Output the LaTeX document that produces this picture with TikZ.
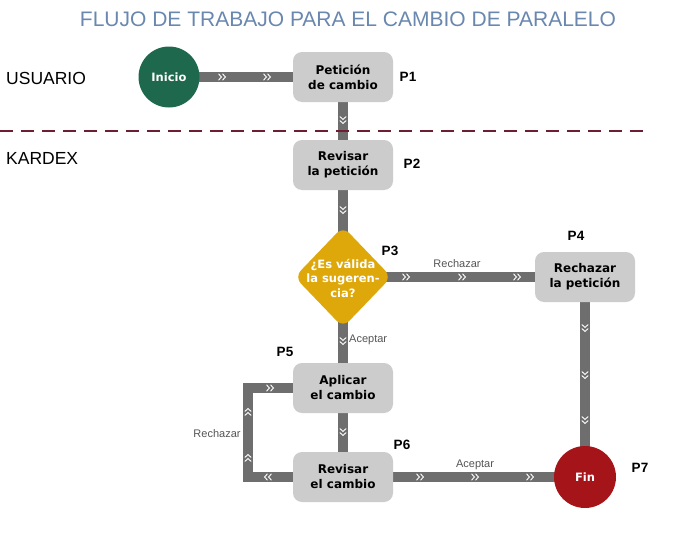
\documentclass[tikz,border=0pt]{standalone}
\usepackage{fontspec}
\setmainfont{Liberation Sans}
\newfontfamily\dvfont{DejaVu Sans}
\usetikzlibrary{shapes.geometric,decorations.markings}
\definecolor{conncol}{RGB}{110,110,110}
\definecolor{boxcol}{RGB}{204,204,204}
\definecolor{inigreen}{RGB}{30,105,78}
\definecolor{finred}{RGB}{165,20,25}
\definecolor{diayellow}{RGB}{222,168,10}
\definecolor{titleblue}{RGB}{105,135,175}
\definecolor{lanered}{RGB}{110,30,50}
\definecolor{lblgray}{RGB}{85,85,85}
\pgfdeclarelayer{bg}
\pgfdeclarelayer{paper}
\pgfsetlayers{paper,bg,main}
\tikzset{
  stepbox/.style={fill=boxcol, rounded corners=9pt, minimum width=100pt, minimum height=50pt,
    inner sep=0pt, align=center, font=\dvfont\bfseries\fontsize{12}{15}\selectfont},
  endcircle/.style={circle, minimum size=#1, inner sep=0pt, text=white,
    font=\dvfont\bfseries\fontsize{11.5}{14}\selectfont},
  decisionbox/.style={diamond, fill=diayellow, rounded corners=9pt, minimum width=97pt,
    minimum height=101pt, inner sep=0pt},
  diatext/.style={text=white, align=center, font=\dvfont\bfseries\fontsize{11.5}{14.5}\selectfont},
  plabel/.style={font=\bfseries\fontsize{13.5}{16}\selectfont},
  lbl/.style={text=lblgray, font=\fontsize{11}{13}\selectfont, inner sep=0pt},
  lanelabel/.style={anchor=west, font=\fontsize{17.5}{20}\selectfont, inner sep=0pt},
  conn/.style={draw=conncol, line width=9.5pt, line join=miter},
  chev/.style={postaction={decorate, decoration={markings, mark=at position #1 with {
    \draw[white, line width=0.9pt, line join=miter] (-3.5pt,-3.2pt) -- (-0.5pt,0pt) -- (-3.5pt,3.2pt)
      (0.5pt,-3.2pt) -- (3.5pt,0pt) -- (0.5pt,3.2pt);}}}},
}
\begin{document}
\begin{tikzpicture}[x=1pt,y=-1pt]
\useasboundingbox (0,0) rectangle (686,538);
\begin{pgfonlayer}{paper}
\fill[white] (0,0) rectangle (686,538);
\end{pgfonlayer}

% title and lanes
\node[text=titleblue, font=\fontsize{21}{24}\selectfont] (tit) at (348,19) {FLUJO DE TRABAJO PARA EL CAMBIO DE PARALELO};
\node[lanelabel] (usr) at (6,78) {USUARIO};
\node[lanelabel] (kdx) at (6,158) {KARDEX};

% nodes
\node[endcircle=61pt, fill=inigreen] (ini) at (169,77) {Inicio};
\node[stepbox] (p1) at (343,77) {Petición\\de cambio};
\node[stepbox] (p2) at (343,165) {Revisar\\la petición};
\node[decisionbox] (dia) at (343,277) {};
\node[diatext] (diat) at (343,278) {¿Es válida\\la sugeren-\\cia?};
\node[stepbox] (p4) at (585,277) {Rechazar\\la petición};
\node[stepbox] (p5) at (343,388) {Aplicar\\el cambio};
\node[stepbox] (p6) at (343,477) {Revisar\\el cambio};
\node[endcircle=62pt, fill=finred] (fin) at (585,477) {Fin};

\coordinate (lb) at (248,477);
\coordinate (lt) at (248,388);

% connectors
\begin{pgfonlayer}{bg}
\draw[conn, chev=53pt, chev=98pt] (ini.center) -- (p1.center);
\draw[conn, chev=43pt] (p1.center) -- (p2.center);
\draw[conn, chev=45pt] (p2.center) -- (dia.center);
\draw[conn, chev=63pt, chev=119pt, chev=174pt] (dia.center) -- (p4.center);
\draw[conn, chev=51pt, chev=98pt, chev=143pt] (p4.center) -- (fin.center);
\draw[conn, chev=64pt] (dia.center) -- (p5.center);
\draw[conn, chev=44pt] (p5.center) -- (p6.center);
\draw[conn, chev=77pt, chev=132pt, chev=187pt] (p6.center) -- (fin.center);
\draw[conn, chev=75pt, chev=114pt, chev=160pt, chev=206pt] (p6.center) -- (lb) -- (lt) -- (p5.center);
\end{pgfonlayer}

% lane separator
\coordinate (dl) at (0,131);
\coordinate (dr) at (645,131);
\draw[lanered, line width=1.2pt, dash pattern=on 13pt off 8pt] (dl) -- (dr);

% connector labels
\node[lbl] (lr1) at (457,264) {Rechazar};
\node[lbl, anchor=west] (la1) at (349,340) {Aceptar};
\node[lbl] (la2) at (475,465) {Aceptar};
\node[lbl] (lr2) at (217,434) {Rechazar};

% step labels
\node[plabel] (l1) at (408,77) {P1};
\node[plabel] (l2) at (412,164) {P2};
\node[plabel] (l3) at (390,251) {P3};
\node[plabel] (l4) at (576,236) {P4};
\node[plabel] (l5) at (285,352) {P5};
\node[plabel] (l6) at (402,445) {P6};
\node[plabel] (l7) at (640,468) {P7};
\end{tikzpicture}
\end{document}
